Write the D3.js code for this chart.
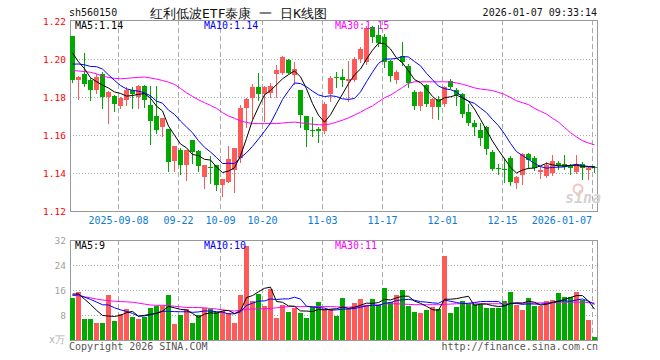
<!DOCTYPE html>
<html>
<head>
<meta charset="utf-8">
<script src="https://cdn.jsdelivr.net/npm/d3@7"></script>
<style>
body { margin: 0; background: #fff; }
text { font-family: "DejaVu Sans Mono", monospace; }
</style>
</head>
<body>
<div id="chart"></div>
<script>
// daily K-line, 2025-08-27 .. 2026-01-07 (88 sessions)
const opens = [1.212,1.189,1.192,1.189,1.1835,1.192,1.180,1.1805,1.1755,1.178,
    1.1835,1.180,1.186,1.1759,1.1698,1.1645,1.1633,1.1465,1.1523,1.1444,
    1.1575,1.1514,1.1382,1.143,1.1444,1.1338,1.1351,1.1417,1.148,1.1744,
    1.1796,1.1853,1.1818,1.1823,1.1919,1.1928,1.1996,1.1919,1.1835,1.170,
    1.1625,1.1633,1.1621,1.1815,1.1907,1.1905,1.1888,1.1888,1.1998,1.1985,
    1.2171,1.2128,1.2116,1.1987,1.1886,1.2017,1.1965,1.1828,1.1756,1.1863,
    1.1744,1.1788,1.1765,1.1884,1.1835,1.1818,1.1723,1.1665,1.1625,1.1642,
    1.1512,1.1425,1.1422,1.148,1.1349,1.1393,1.1498,1.148,1.1402,1.1384,
    1.1402,1.1453,1.1449,1.1437,1.1402,1.1449,1.1419,1.143];
const highs = [1.212,1.191,1.203,1.190,1.192,1.193,1.183,1.181,1.180,1.1855,
    1.1855,1.1865,1.1862,1.1856,1.1856,1.169,1.1633,1.1544,1.1532,1.1523,
    1.1575,1.1523,1.1444,1.149,1.1444,1.137,1.1544,1.1532,1.176,1.1795,
    1.1867,1.1928,1.186,1.1875,1.197,1.2016,1.200,1.1986,1.1835,1.170,
    1.1695,1.1642,1.1775,1.191,1.1933,1.1946,1.199,1.201,1.2063,1.2175,
    1.2175,1.218,1.213,1.1995,1.194,1.2087,1.1975,1.1835,1.183,1.1867,
    1.1795,1.1805,1.186,1.1893,1.1846,1.1823,1.1765,1.1677,1.1665,1.165,
    1.152,1.1445,1.148,1.149,1.1383,1.1505,1.1507,1.149,1.1437,1.146,
    1.1495,1.1463,1.1495,1.145,1.1495,1.1456,1.143,1.1437];
const lows = [1.188,1.179,1.1858,1.1782,1.182,1.174,1.1663,1.1726,1.174,1.176,
    1.174,1.1742,1.1745,1.1553,1.161,1.1596,1.1408,1.1408,1.1396,1.1365,
    1.1453,1.1412,1.1321,1.1347,1.1312,1.1277,1.1351,1.1298,1.146,1.164,
    1.169,1.1782,1.1674,1.180,1.180,1.192,1.1925,1.1867,1.1642,1.1542,
    1.1595,1.1565,1.161,1.178,1.1853,1.186,1.178,1.1885,1.1985,1.1975,
    1.2087,1.207,1.196,1.1886,1.1875,1.197,1.185,1.1735,1.173,1.1755,
    1.1691,1.1682,1.1755,1.1845,1.1758,1.1695,1.1655,1.160,1.1547,1.150,
    1.1415,1.1393,1.1354,1.1335,1.1323,1.1344,1.1428,1.1415,1.1375,1.138,
    1.139,1.142,1.142,1.1393,1.140,1.1367,1.1367,1.1407];
const closes = [1.189,1.1907,1.1867,1.1835,1.1905,1.180,1.1828,1.1765,1.1796,1.1835,
    1.1815,1.186,1.1784,1.1676,1.1624,1.169,1.1461,1.1544,1.1444,1.1523,
    1.1514,1.1435,1.1444,1.1425,1.1338,1.137,1.1474,1.1532,1.1742,1.179,
    1.1853,1.1818,1.1853,1.1858,1.194,1.201,1.1928,1.1949,1.1705,1.1625,
    1.1621,1.1621,1.1765,1.190,1.1903,1.1888,1.1896,1.1998,1.2051,1.2165,
    1.212,1.2084,1.1987,1.1908,1.193,1.1987,1.1877,1.1756,1.1828,1.1765,
    1.1788,1.1747,1.1853,1.1853,1.181,1.1712,1.1665,1.1642,1.1582,1.1525,
    1.1425,1.1423,1.142,1.1354,1.1379,1.1502,1.1467,1.1428,1.1414,1.1442,
    1.1463,1.1439,1.1432,1.1426,1.1446,1.1428,1.1428,1.1423];
// volume, 10k lots
const volumes = [13.6,15.3,6.6,6.6,5.5,5.3,14.3,6.0,8.4,9.8,
    7.3,6.6,7.3,10.3,10.9,11.0,14.3,5.0,7.9,9.8,
    5.5,7.9,10.4,9.8,9.1,9.4,8.7,5.3,14.3,30.2,
    12.6,14.7,10.9,16.2,7.2,11.3,8.9,10.4,8.7,7.0,
    10.6,12.1,9.8,9.8,7.7,13.4,9.8,11.7,13.0,11.1,
    13.0,11.1,16.8,12.1,14.3,15.9,10.9,9.1,8.5,9.5,
    10.6,9.8,26.8,8.5,10.5,12.6,11.6,11.6,11.4,10.2,
    10.2,10.2,12.6,15.5,11.1,9.6,13.3,10.9,10.9,12.4,
    12.8,15.0,13.9,13.9,15.5,12.7,6.3,1.0];
// MA30 lines (their windows reach before the first candle)
const priceMa30 = [1.1940,1.1937,1.1934,1.1930,1.1922,1.1910,1.1903,1.1898,1.1896,1.1898,
    1.1901,1.1903,1.1905,1.1900,1.1894,1.1887,1.1878,1.1866,1.1845,1.1822,
    1.1803,1.1785,1.1770,1.1756,1.1740,1.1718,1.1700,1.1688,1.1674,1.1666,
    1.1660,1.1660,1.1660,1.1660,1.1660,1.1663,1.1666,1.1668,1.1664,1.1660,
    1.1657,1.1654,1.1654,1.1658,1.1668,1.1678,1.1690,1.1705,1.1720,1.1738,
    1.1753,1.1775,1.1796,1.1810,1.1830,1.1850,1.1872,1.1880,1.1880,1.1880,
    1.1880,1.1880,1.1880,1.1879,1.1874,1.1867,1.1858,1.1848,1.1842,1.1838,
    1.1834,1.1824,1.1814,1.1797,1.1780,1.1770,1.1760,1.1740,1.1725,1.1710,
    1.1688,1.1668,1.1640,1.1612,1.1590,1.1570,1.1558,1.1548];
const volumeMa30 = [14.4,14.1,13.8,13.5,13.1,12.8,12.6,12.4,12.3,12.2,
    12.1,11.8,11.5,11.2,11.1,11.1,11.0,10.8,10.6,10.4,
    10.4,10.4,10.3,10.1,9.9,9.7,9.4,9.3,9.5,9.8,
    9.9,10.0,10.0,10.1,10.3,10.5,10.7,10.7,10.7,10.7,
    10.7,10.7,10.7,10.7,10.6,10.6,10.5,10.6,10.8,11.0,
    11.1,11.3,11.5,11.6,11.6,11.5,11.4,11.3,11.3,11.3,
    11.3,11.3,11.4,11.5,11.6,11.6,11.6,11.6,11.6,11.6,
    11.6,11.6,11.6,11.7,11.7,11.8,11.8,11.8,11.9,11.9,
    12.0,12.0,12.1,12.1,12.1,12.1,12.0,11.8];
// the 9 sessions before the first candle, estimated from where MA5/MA10 start
const priorCloses = [1.190,1.191,1.192,1.192,1.192,1.214,1.205,1.207,1.201];
const priorVolumes = [13.5,14,14,14,14,15,15,15,14.9];

const tickIndex = [8, 18, 25, 32, 42, 52, 62, 72, 87];
const tickLabels = ["2025-09-08", "09-22", "10-09", "10-20", "11-03", "11-17", "12-01", "12-15", "2026-01-07"];
const priceTicks = [1.12, 1.14, 1.16, 1.18, 1.20, 1.22];
const volumeTicks = [8, 16, 24, 32];
const priceMaLabels = ["MA5:1.14", "MA10:1.14", "MA30:1.15"];
const volumeMaLabels = ["MA5:9", "MA10:10", "MA30:11"];

const width = 660;
const height = 360;
const red = "#ff5a5a";
const green = "#00a800";
const gridColor = "#aaaaaa";
const maColors = ["#000000", "#0000ff", "#ff00ff"];

const svg = d3.select('#chart')
    .append('svg')
    .attr("width", width)
    .attr("height", height);

const days = d3.range(closes.length);
const x = d3.scaleBand().domain(days).range([70, 598]);
const y = d3.scaleLinear().domain([1.12, 1.22]).range([211, 21]);
const yv = d3.scaleLinear().domain([0, 32]).range([340, 240]);

function movingAvg(values, prior, n) {
    const all = prior.concat(values);
    return values.map((v, i) => {
        const end = prior.length + i + 1;
        return d3.mean(all.slice(Math.max(0, end - n), end));
    });
}
const isUp = i => closes[i] >= opens[i];

// --- frames and grid
function drawPanel(top, bottom, hLines) {
    const g = svg.append("g");
    g.selectAll(".vgrid")
        .data(tickIndex)
        .enter()
        .append("line")
        .attr("x1", i => x(i) + 0.5).attr("x2", i => x(i) + 0.5)
        .attr("y1", top).attr("y2", bottom)
        .attr("stroke", gridColor)
        .attr("stroke-dasharray", "5,3");
    g.selectAll(".hgrid")
        .data(hLines)
        .enter()
        .append("line")
        .attr("x1", 70).attr("x2", 598)
        .attr("y1", d => d).attr("y2", d => d)
        .attr("stroke", gridColor)
        .attr("stroke-dasharray", "1,2");
    g.append("rect")
        .attr("x", 70.5).attr("y", top + 0.5)
        .attr("width", 527).attr("height", bottom - top)
        .attr("fill", "none")
        .attr("stroke", "#999");
}
drawPanel(20, 211, [1.14, 1.16, 1.18, 1.20].map(v => Math.round(y(v)) + 0.5));
drawPanel(240, 340, [8, 16, 24].map(v => Math.round(yv(v)) + 0.5));

// sina watermark
svg.append("circle").attr("cx", 578).attr("cy", 189).attr("r", 4.5)
    .attr("fill", "none").attr("stroke", "#f3c4c4").attr("stroke-width", 2);
svg.append("text").text("sina")
    .attr("x", 565).attr("y", 203)
    .attr("font-family", "DejaVu Sans").attr("font-weight", "bold").attr("font-style", "italic")
    .attr("font-size", 15).attr("fill", "#d6d2d2");

// --- candles
const candles = svg.append("g");
candles.selectAll(".wick")
    .data(days)
    .enter()
    .append("line")
    .attr("x1", i => x(i) + 2.5).attr("x2", i => x(i) + 2.5)
    .attr("y1", i => Math.round(y(highs[i])))
    .attr("y2", i => Math.round(y(lows[i])) + 1)
    .attr("stroke", i => isUp(i) ? red : green);
candles.selectAll(".body")
    .data(days)
    .enter()
    .append("rect")
    .attr("x", i => x(i))
    .attr("width", 5)
    .attr("y", i => Math.round(y(Math.max(opens[i], closes[i]))))
    .attr("height", i => Math.max(1, Math.round(Math.abs(y(opens[i]) - y(closes[i])))))
    .attr("fill", i => isUp(i) ? red : green);

// --- volume bars
svg.append("g").selectAll("rect")
    .data(days)
    .enter()
    .append("rect")
    .attr("x", i => x(i))
    .attr("width", 5)
    .attr("y", i => Math.round(yv(volumes[i])))
    .attr("height", i => 340 - Math.round(yv(volumes[i])))
    .attr("fill", i => isUp(i) ? red : green);

// --- moving averages
const priceMas = [movingAvg(closes, priorCloses, 5), movingAvg(closes, priorCloses, 10), priceMa30];
const volumeMas = [movingAvg(volumes, priorVolumes, 5), movingAvg(volumes, priorVolumes, 10), volumeMa30];
const priceLine = d3.line().x((d, i) => x(i) + 2.5).y(d => y(d));
const volumeLine = d3.line().x((d, i) => x(i) + 2.5).y(d => yv(d));
[2, 1, 0].forEach(k => {
    svg.append("path").attr("d", priceLine(priceMas[k]))
        .attr("fill", "none").attr("stroke", maColors[k]).attr("stroke-width", 1);
    svg.append("path").attr("d", volumeLine(volumeMas[k]))
        .attr("fill", "none").attr("stroke", maColors[k]).attr("stroke-width", 1);
});

// --- axes text
svg.selectAll(".plabel")
    .data(priceTicks)
    .enter()
    .append("text")
    .text(d => d.toFixed(2))
    .attr("x", 66).attr("y", d => y(d) + 3.5)
    .attr("text-anchor", "end")
    .attr("font-size", 9.5)
    .attr("fill", "#ff0000");
svg.selectAll(".vlabel")
    .data(volumeTicks)
    .enter()
    .append("text")
    .text(d => d)
    .attr("x", 66).attr("y", d => yv(d) + 3.5)
    .attr("text-anchor", "end")
    .attr("font-size", 9.5)
    .attr("fill", "#a0a0a0");
svg.append("text").text("x万")
    .attr("x", 49).attr("y", 343)
    .attr("font-family", "Noto Sans CJK SC")
    .attr("font-size", 10).attr("fill", "#b0b0b0");

svg.selectAll(".dlabel")
    .data(tickIndex)
    .enter()
    .append("text")
    .text((d, k) => tickLabels[k])
    .attr("x", (d, k) => k === tickIndex.length - 1 ? x(d) : x(d) + 0.5)
    .attr("y", 224)
    .attr("text-anchor", (d, k) => k === tickIndex.length - 1 ? "end" : "middle")
    .attr("font-size", 10)
    .attr("fill", "#0a7ad4");

// --- MA legends
const legendX = [75, 204, 335];
priceMaLabels.forEach((t, k) => {
    svg.append("text").text(t).attr("x", legendX[k]).attr("y", 29)
        .attr("font-size", 10).attr("fill", maColors[k]);
});
volumeMaLabels.forEach((t, k) => {
    svg.append("text").text(t).attr("x", legendX[k]).attr("y", 249)
        .attr("font-size", 10).attr("fill", maColors[k]);
});

// --- header and footer
svg.append("text").text("sh560150").attr("x", 69).attr("y", 16)
    .attr("font-size", 10).attr("fill", "#111");
svg.append("text").text("红利低波ETF泰康 一 日K线图").attr("x", 150).attr("y", 18)
    .attr("font-family", "Noto Sans CJK SC").attr("font-size", 13).attr("fill", "#111");
svg.append("text").text("2026-01-07 09:33:14").attr("x", 597).attr("y", 16)
    .attr("text-anchor", "end").attr("font-size", 10).attr("fill", "#111");
svg.append("text").text("Copyright 2026 SINA.COM").attr("x", 69).attr("y", 350)
    .attr("font-size", 10).attr("fill", "#555");
svg.append("text").text("http://finance.sina.com.cn").attr("x", 598).attr("y", 350)
    .attr("text-anchor", "end").attr("font-size", 10).attr("fill", "#555");
</script>
</body>
</html>
